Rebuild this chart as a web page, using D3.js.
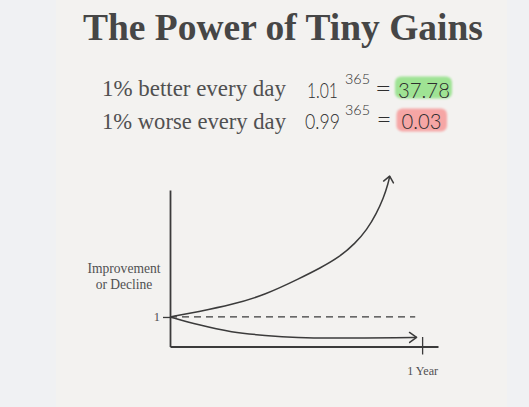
<!DOCTYPE html>
<html>
<head>
<meta charset="utf-8">
<script src="https://cdn.jsdelivr.net/npm/d3@7"></script>
<style>
  html, body { margin: 0; padding: 0; background: #f0f1f3; }
  svg { display: block; }
</style>
</head>
<body>
<svg id="chart" width="529" height="407"></svg>
<script>
// values
const title = 'The Power of Tiny Gains'
const captions = ['1% better every day', '1% worse every day']
const bases = ['1.01', '0.99']
const exponent = '365'
const results = ['37.78', '0.03']

// day of year vs relative level (1 = start)
const betterDays = [0, 41, 89, 138, 188, 217, 246, 268, 285, 299, 309, 316, 318]
const betterVals = [1, 1.18, 1.41, 1.75, 2.31, 2.65, 3.04, 3.49, 3.95, 4.51, 5.02, 5.53, 5.77]
const worseDays = [0, 41, 89, 138, 185, 234, 282, 330, 357]
const worseVals = [1, 0.73, 0.48, 0.37, 0.30, 0.28, 0.29, 0.30, 0.31]
const baselineDays = [0, 355]
const yTicks = [1]
const xTicks = [365]
const xTickLabels = ['1 Year']
const yLabel = ['Improvement', 'or Decline']

const svg = d3.select('#chart')
const ink = '#3b3b3b'
const serif = '"Liberation Serif", "DejaVu Serif", serif'
const hand = 'Lato, "Open Sans", sans-serif'

// paper
svg.append('rect')
    .attr('x', 56).attr('y', 0)
    .attr('width', 451).attr('height', 407)
    .attr('fill', '#f3f2f0')

// shrink/grow font so text spans the given width
const fit = (sel, w) => {
    const fs = parseFloat(sel.attr('font-size'))
    const len = sel.node().getComputedTextLength()
    sel.attr('font-size', fs * w / len)
    return sel
}

fit(svg.append('text')
    .attr('x', 83).attr('y', 40)
    .attr('font-family', serif)
    .attr('font-weight', 'bold')
    .attr('font-size', 34)
    .attr('fill', '#464646')
    .text(title), 400)

const rowY = [95.5, 128.5]
captions.forEach((c, i) => {
    fit(svg.append('text')
        .attr('x', 102).attr('y', rowY[i])
        .attr('font-family', serif)
        .attr('font-size', 20)
        .attr('fill', '#505050')
        .text(c), 184)
})

// highlights
const defs = svg.append('defs')
defs.append('filter').attr('id', 'soft')
    .append('feGaussianBlur').attr('stdDeviation', 0.9)

const boxes = [
    { x: 395, y: 76.5, w: 57, h: 22, fill: '#9fe394' },
    { x: 396.5, y: 108.5, w: 50.5, h: 23, fill: '#f6a6a5' }
]
boxes.forEach(b => {
    svg.append('rect')
        .attr('x', b.x).attr('y', b.y)
        .attr('width', b.w).attr('height', b.h)
        .attr('rx', 6)
        .attr('fill', b.fill)
        .attr('filter', 'url(#soft)')
})

// narrow "handwritten" pieces: squeeze horizontally to the width seen
const handText = (txt, px, py, fs, w) => {
    const t = svg.append('text')
        .attr('font-family', hand)
        .attr('font-weight', 300)
        .attr('font-size', fs)
        .attr('fill', '#2e2e2e')
        .text(txt)
    const sx = w / t.node().getComputedTextLength()
    t.attr('transform', `translate(${px},${py}) scale(${sx},1)`)
    return t
}

const baseX = [307, 305], baseW = [31, 35]
const eqX = [375, 376.5], eqW = [16.5, 15]
const resX = [398, 401.5], resW = [52, 40]
const supY = [83.5, 115]
bases.forEach((b, i) => {
    const yb = [97.5, 128.5][i]
    handText(b, baseX[i], yb, 22.5, baseW[i])
    handText(exponent, 345, supY[i], 14, 25)
    handText('=', eqX[i], yb - 1, 24, eqW[i])
    handText(results[i], resX[i], yb, 22.5, resW[i])
})

// chart
const x = d3.scaleLinear().domain([0, 388]).range([170, 438])
const y = d3.scaleLinear().domain([0, 5.3]).range([346.5, 190])

const yAxis = svg.append('g')
    .attr('transform', `translate(${x(0)},0)`)
    .call(d3.axisLeft(y).tickValues(yTicks).tickSize(7).tickSizeOuter(0).tickPadding(3).tickFormat(d3.format('d')))
const xAxis = svg.append('g')
    .attr('transform', `translate(0,${y(0)})`)
    .call(d3.axisBottom(x).tickValues(xTicks).tickSize(8).tickSizeOuter(0).tickPadding(12)
        .tickFormat((d, i) => xTickLabels[i]))

;[yAxis, xAxis].forEach(g => {
    g.select('.domain').attr('stroke', ink).attr('stroke-width', 1.8)
    g.selectAll('.tick line').attr('stroke', ink).attr('stroke-width', 1.3)
    g.selectAll('.tick text')
        .attr('font-family', serif)
        .attr('font-size', 12.5)
        .attr('fill', '#505050')
})
xAxis.selectAll('.tick line').attr('y1', -9.5)
yAxis.selectAll('.tick text').attr('dy', '0.3em')
xAxis.selectAll('.tick text').each(function () { fit(d3.select(this), 31) })

const lab = svg.append('text')
    .attr('font-family', serif)
    .attr('font-size', 12)
    .attr('fill', '#505050')
    .attr('text-anchor', 'middle')
lab.selectAll('tspan').data(yLabel).enter().append('tspan')
    .attr('x', 124)
    .attr('y', (d, i) => 273 + i * 16)
    .text(d => d)
// scale label so "Improvement" spans ~73px
const firstLen = lab.select('tspan').node().getComputedTextLength()
lab.attr('font-size', 12 * 73 / firstLen)

// arrow heads
const marker = (id, len, half) => defs.append('marker')
    .attr('id', id)
    .attr('markerUnits', 'userSpaceOnUse')
    .attr('viewBox', `${-len - 2} ${-half - 2} ${len + 4} ${2 * half + 4}`)
    .attr('markerWidth', len + 4).attr('markerHeight', 2 * half + 4)
    .attr('refX', 0).attr('refY', 0)
    .attr('orient', 'auto')
    .append('path')
    .attr('d', `M${-len},${-half}L0,0L${-len},${half}`)
    .attr('fill', 'none')
    .attr('stroke', ink)
    .attr('stroke-width', 1.5)
    .attr('stroke-linecap', 'round')
    .attr('stroke-linejoin', 'round')
marker('arrowUp', 6, 5)
marker('arrowRight', 7, 5)

const line = d3.line()
    .x(d => x(d[0]))
    .y(d => y(d[1]))
    .curve(d3.curveBasis)

svg.append('path')
    .datum(baselineDays.map(d => [d, 1]))
    .attr('d', line)
    .attr('fill', 'none')
    .attr('stroke', ink)
    .attr('stroke-width', 1.3)
    .attr('stroke-dasharray', '7,5')

svg.append('path')
    .datum(d3.zip(betterDays, betterVals))
    .attr('d', line)
    .attr('fill', 'none')
    .attr('stroke', ink)
    .attr('stroke-width', 1.5)
    .attr('marker-end', 'url(#arrowUp)')

svg.append('path')
    .datum(d3.zip(worseDays, worseVals))
    .attr('d', line)
    .attr('fill', 'none')
    .attr('stroke', ink)
    .attr('stroke-width', 1.5)
    .attr('marker-end', 'url(#arrowRight)')
</script>
</body>
</html>
